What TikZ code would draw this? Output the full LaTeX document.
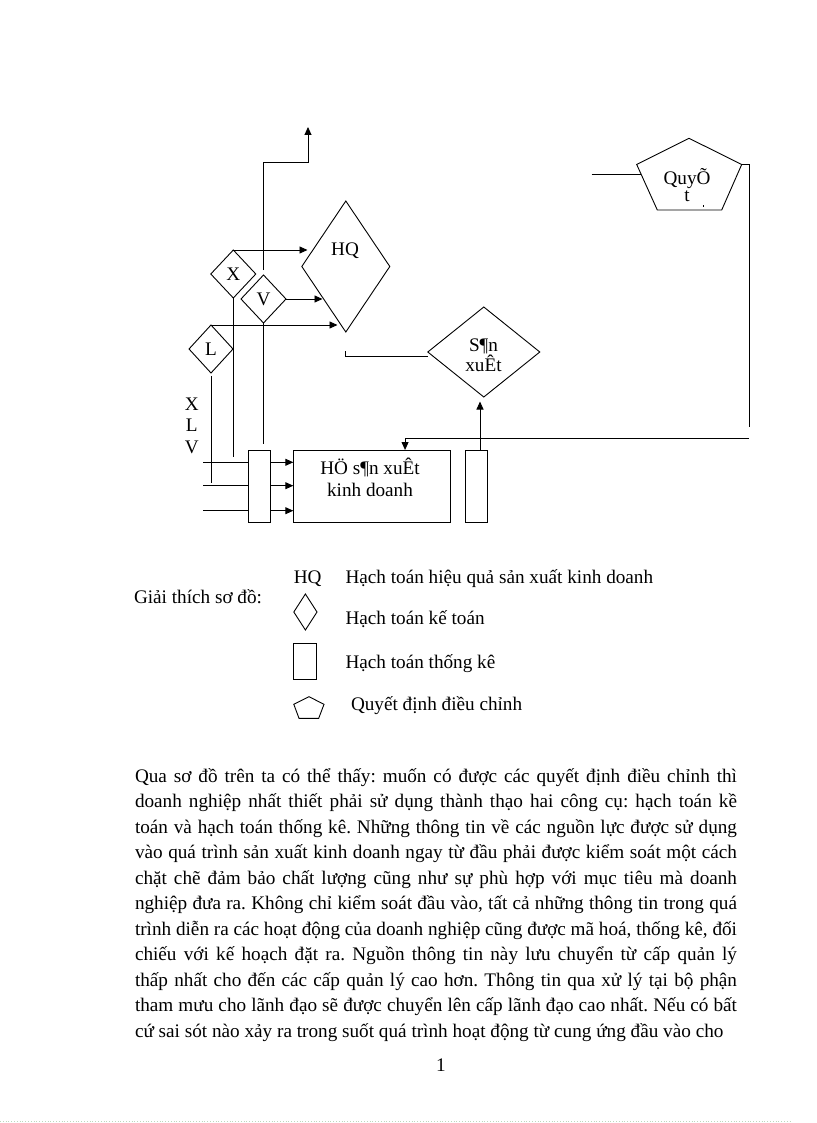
\documentclass[tikz,border=0pt]{standalone}
\usepackage{fontspec}
\setmainfont{Liberation Serif}
\usetikzlibrary{shapes.geometric,arrows.meta,calc}
\newcommand\justline[1]{\makebox[602pt][s]{#1}}
\frenchspacing
\begin{document}
\frenchspacing
\begin{tikzpicture}[x=1pt,y=-1pt,
  every node/.style={font=\fontsize{19.2}{21.5}\selectfont, inner sep=0pt, outer sep=0pt},
  ln/.style={line width=0.9pt, black},
  arr/.style={ln, -{Triangle[length=8pt,width=7pt]}},
  dia/.style={shape=diamond, draw, line width=0.9pt, inner sep=0pt},
  box/.style={draw, line width=0.9pt, inner sep=0pt, anchor=north west},
  txt/.style={inner sep=0pt},
  bodyline/.style={anchor=base west, inner sep=0pt}
]
\useasboundingbox (0,0) rectangle (816,1123);
\fill[white] (0,0) rectangle (816,1123);

% ---------- diagram ----------
\node[dia, minimum width=45, minimum height=48] (X) at (233.3,274) {X};
\node[dia, minimum width=45, minimum height=48] (V) at (263.5,299) {V};
\node[dia, minimum width=44, minimum height=48] (L) at (211,349) {L};
\node[dia, minimum width=88, minimum height=131] (HQ) at (345.8,266.5) {};
\node[txt] (hqt) at (345,251) {HQ};
\node[dia, minimum width=112, minimum height=90] (SX) at (483.8,352) {};
\node[txt, align=center, font=\fontsize{19.2}{20.5}\selectfont] (sxt) at (483.5,355) {S¶n\\xuÊt};

\node[box, minimum width=22.4, minimum height=72] (SR1) at (248.3,450) {};
\node[box, minimum width=156.7, minimum height=72] (BR) at (293.3,450) {};
\node[txt, align=center, font=\fontsize{19.2}{21.6}\selectfont] (brt) at (370,477.5) {HÖ s¶n xuÊt\\kinh doanh};
\node[box, minimum width=22.3, minimum height=72] (SR2) at (465,450) {};

\node[txt] (lx) at (191.7,404) {X};
\node[txt] (ll) at (191.7,425.5) {L};
\node[txt] (lv) at (191.7,447) {V};

% arrows into HQ
\coordinate (h1) at (307.5,250);
\coordinate (h2) at (322.5,300);
\coordinate (h3) at (337.5,325);
\draw[arr] (X.north) -- (X.north -| h1);
\draw[arr] (V.east) -- (V.east -| h2);
\draw[arr] (L.north) -- (L.north -| h3);

% upward output arrow
\coordinate (u1) at (308,162.7);
\coordinate (utop) at (308,127);
\draw[arr, shorten <=5pt] (V.north) |- (u1) -- (utop);

% vertical lines down
\coordinate (xd) at (233.3,457);
\coordinate (vd) at (263.5,444);
\coordinate (ld) at (211,483);
\draw[ln] (X.south) -- (xd);
\draw[ln] (V.south) -- (vd);
\draw[ln, shorten <=3pt] (L.south) -- (ld);

% input lines
\coordinate (in1) at (203,462.3);
\coordinate (in2) at (203,485.7);
\coordinate (in3) at (203,510.7);
\foreach \i in {in1,in2,in3}{
  \draw[ln] (\i) -- (\i -| SR1.west);
  \draw[arr] (\i -| SR1.east) -- (\i -| BR.west);
}

% SR2 up to SX
\draw[arr, shorten >=4.5pt] ([xshift=3.85pt]SR2.north) -- ([xshift=3.85pt]SR2.north |- SX.south);

% hook from SX
\coordinate (hk) at (345.7,351);
\draw[ln] ([yshift=-4.5pt]SX.west) -| (hk);

% pentagon
\coordinate (pT) at (689,138.3);
\coordinate (pUR) at (741.7,164.5);
\coordinate (pLR) at (721.7,210);
\coordinate (pLL) at (657.3,210);
\coordinate (pUL) at (636.7,164.5);
\draw[ln] (pT) -- (pUR) -- (pLR) -- (pLL) -- (pUL) -- cycle;
\node[txt, align=center, font=\fontsize{19.2}{17}\selectfont] (quy) at (687,185) {QuyÕ\\t};
\fill (702.5,205.5) rectangle (704,206.8);

\coordinate (qL) at (591.7,174.3);
\coordinate (qLe) at (640.5,174.3);
\draw[ln] (qL) -- (qLe);

\coordinate (fbt) at (749,164.5);
\coordinate (fbb) at (749,427);
\draw[ln] (pUR) -- (fbt) -- (fbb);
\coordinate (fbr) at (749,438.3);
\draw[arr] (fbr) -| ([xshift=33.4pt]BR.north);

% ---------- legend ----------
\node[bodyline] (gt) at (134,603) {Giải thích sơ đồ:};
\node[bodyline] (lg1) at (293.8,583) {HQ};
\node[bodyline] (lg2) at (345.5,583) {Hạch toán hiệu quả sản xuất kinh doanh};
\node[dia, minimum width=23.2, minimum height=36] (ldia) at (305.4,612) {};
\node[bodyline] (lg3) at (345.5,624) {Hạch toán kế toán};
\node[box, minimum width=22.2, minimum height=36] (lrect) at (293.8,643) {};
\node[bodyline] (lg4) at (345.5,668) {Hạch toán thống kê};
\coordinate (lpT) at (309,696.7);
\coordinate (lpUR) at (324,704.3);
\coordinate (lpLR) at (318.7,718.3);
\coordinate (lpLL) at (299,718.3);
\coordinate (lpUL) at (293.8,704.3);
\draw[ln] (lpT) -- (lpUR) -- (lpLR) -- (lpLL) -- (lpUL) -- cycle;
\node[bodyline] (lg5) at (351,710) {Quyết định điều chỉnh};

% ---------- body text ----------
\node[bodyline] (b1) at (135,782.3) {\justline{Qua sơ đồ trên ta có thể thấy: muốn có được các quyết định điều chỉnh thì}};
\node[bodyline] (b2) at (135,807.8) {\justline{doanh nghiệp nhất thiết phải sử dụng thành thạo hai công cụ: hạch toán kề}};
\node[bodyline] (b3) at (135,833.3) {\justline{toán và hạch toán thống kê. Những thông tin về các nguồn lực được sử dụng}};
\node[bodyline] (b4) at (135,858.8) {\justline{vào quá trình sản xuất kinh doanh ngay từ đầu phải được kiểm soát một cách}};
\node[bodyline] (b5) at (135,884.3) {\justline{chặt chẽ đảm bảo chất lượng cũng như sự phù hợp với mục tiêu mà doanh}};
\node[bodyline] (b6) at (135,909.8) {\justline{nghiệp đưa ra. Không chỉ kiểm soát đầu vào, tất cả những thông tin trong quá}};
\node[bodyline] (b7) at (135,935.3) {\justline{trình diễn ra các hoạt động của doanh nghiệp cũng được mã hoá, thống kê, đối}};
\node[bodyline] (b8) at (135,960.8) {\justline{chiếu với kế hoạch đặt ra. Nguồn thông tin này lưu chuyển từ cấp quản lý}};
\node[bodyline] (b9) at (135,986.3) {\justline{thấp nhất cho đến các cấp quản lý cao hơn. Thông tin qua xử lý tại bộ phận}};
\node[bodyline] (b10) at (135,1011.8) {\justline{tham mưu cho lãnh đạo sẽ được chuyển lên cấp lãnh đạo cao nhất. Nếu có bất}};
\node[bodyline] (b11) at (135,1037.3) {cứ sai sót nào xảy ra trong suốt quá trình hoạt động từ cung ứng đầu vào cho};

\node[bodyline] (pg) at (436,1071) {1};

\coordinate (dl1) at (0,1121);
\coordinate (dl2) at (790,1121);
\draw[dotted, line width=0.8pt, color={rgb,255:red,190;green,215;blue,190}] (dl1) -- (dl2);
\end{tikzpicture}
\end{document}
